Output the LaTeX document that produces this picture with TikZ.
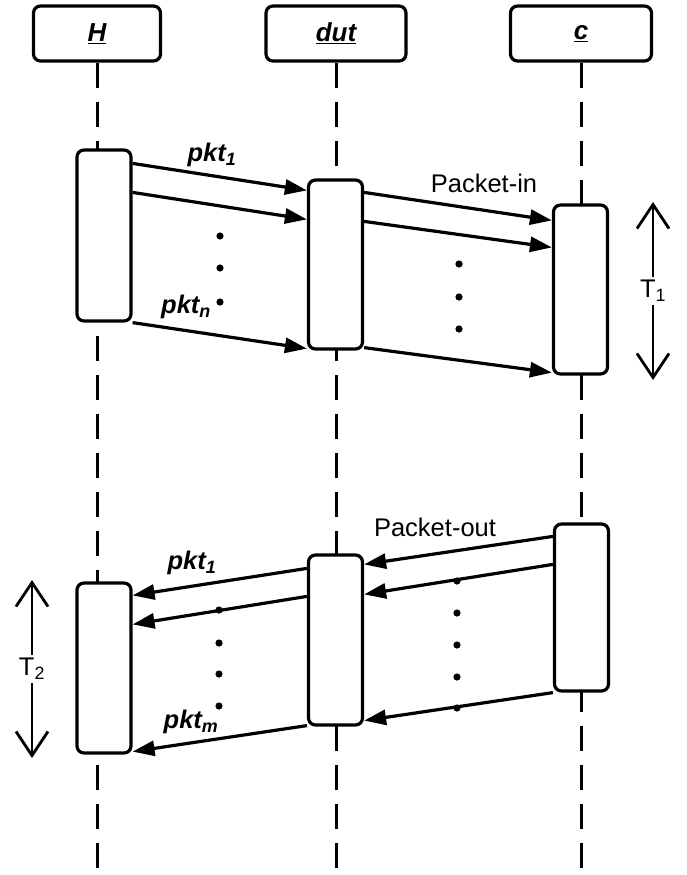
\documentclass[tikz,border=0pt]{standalone}
\usepackage{fontspec}
\setmainfont{Liberation Sans}
\usetikzlibrary{arrows.meta, positioning}

\begin{document}
\begin{tikzpicture}[
		x=1pt, y=-1pt,
		font=\fontsize{25.5}{30}\selectfont,
		head/.style={rectangle, draw, line width=3.2pt, rounded corners=7pt, fill=white, minimum height=55pt, inner sep=0pt, font=\fontsize{26}{30}\selectfont\bfseries\itshape},
		act/.style={rectangle, draw, line width=3.2pt, rounded corners=7pt, fill=white, minimum width=54pt, inner sep=0pt},
		lifeline/.style={line width=3pt, dash pattern=on 25pt off 14pt},
		msg/.style={line width=3.2pt, -{Triangle[length=22pt, width=15pt]}},
		period/.style={line width=2.8pt, {Straight Barb[length=24pt, width=32pt]}-{Straight Barb[length=24pt, width=32pt]}},
		pkt/.style={font=\fontsize{25.5}{30}\selectfont\bfseries\itshape}
		]
		\useasboundingbox (0, 0) rectangle (686, 875);

		% objects and lifelines
		\node (head H) at (97, 33.5) [head, minimum width=127pt] {\underline{H}};
		\node (head dut) at (336, 33.5) [head, minimum width=140pt] {\underline{dut}};
		\node (head c) at (581, 33.5) [head, minimum width=141pt] {\underline{c}};
		\coordinate (end H) at (97, 875);
		\coordinate (end dut) at (336, 875);
		\coordinate (end c) at (581, 875);
		\draw[lifeline] (head H) -- (end H);
		\draw[lifeline] (head dut) -- (end dut);
		\draw[lifeline] (head c) -- (end c);

		% activations
		\node (H 1) at (104, 235.5) [act, minimum height=171pt] {};
		\node (dut 1) at (335.5, 264.5) [act, minimum height=169pt] {};
		\node (c 1) at (580.5, 289.5) [act, minimum height=169pt] {};
		\node (c 2) at (581.5, 607.5) [act, minimum height=167pt] {};
		\node (dut 2) at (335.5, 640) [act, minimum height=170pt] {};
		\node (H 2) at (104, 668) [act, minimum height=170pt] {};

		% packets towards the controller
		\draw[msg] ([yshift=-15pt]H 1.north east) -- ([yshift=-12pt]dut 1.north west);
		\draw[msg] ([yshift=-44pt]H 1.north east) -- ([yshift=-41pt]dut 1.north west);
		\draw[msg] (H 1.south east) -- ([yshift=2pt]dut 1.south west);
		\draw[msg] ([yshift=-14pt]dut 1.north east) -- ([yshift=-17pt]c 1.north west);
		\draw[msg] ([yshift=-43pt]dut 1.north east) -- ([yshift=-44pt]c 1.north west);
		\draw[msg] ([yshift=3pt]dut 1.south east) -- ([yshift=3pt]c 1.south west);
		\foreach \y in {236, 268, 302}
			\fill (220, \y) circle (3.6pt);
		\foreach \y in {264, 297, 329}
			\fill (459, \y) circle (3.6pt);
		\node (pkt 1 in) at (212, 155) [pkt] {pkt\textsubscript{1}};
		\node (pkt n) at (186, 307) [pkt] {pkt\textsubscript{n}};
		\node (packet in) at (484, 183) {Packet-in};

		% packets back to the host
		\draw[msg] ([yshift=-14pt]c 2.north west) -- ([yshift=-11pt]dut 2.north east);
		\draw[msg] ([yshift=-42pt]c 2.north west) -- ([yshift=-41pt]dut 2.north east);
		\draw[msg] (c 2.south west) -- ([yshift=6pt]dut 2.south east);
		\draw[msg] ([yshift=-15pt]dut 2.north west) -- ([yshift=-14pt]H 2.north east);
		\draw[msg] ([yshift=-43pt]dut 2.north west) -- ([yshift=-43pt]H 2.north east);
		\draw[msg] ([yshift=1pt]dut 2.south west) -- ([yshift=3pt]H 2.south east);
		\foreach \y in {581, 613, 645, 677, 708}
			\fill (457, \y) circle (3.6pt);
		\foreach \y in {610, 643, 674, 706}
			\fill (219, \y) circle (3.6pt);
		\node (packet out) at (435, 527) {Packet-out};
		\node (pkt 1 out) at (192, 563) [pkt] {pkt\textsubscript{1}};
		\node (pkt m) at (191, 722) [pkt] {pkt\textsubscript{m}};

		% time spans
		\coordinate (t1 top) at (653, 202);
		\coordinate (t1 bottom) at (653, 380);
		\coordinate (t2 top) at (32, 580);
		\coordinate (t2 bottom) at (32, 758);
		\draw[period] (t1 top) -- node[fill=white, inner sep=3pt] (t1 label) {T\textsubscript{1}} (t1 bottom);
		\draw[period] (t2 top) -- node[fill=white, inner sep=3pt] (t2 label) {T\textsubscript{2}} (t2 bottom);
	\end{tikzpicture}
\end{document}
